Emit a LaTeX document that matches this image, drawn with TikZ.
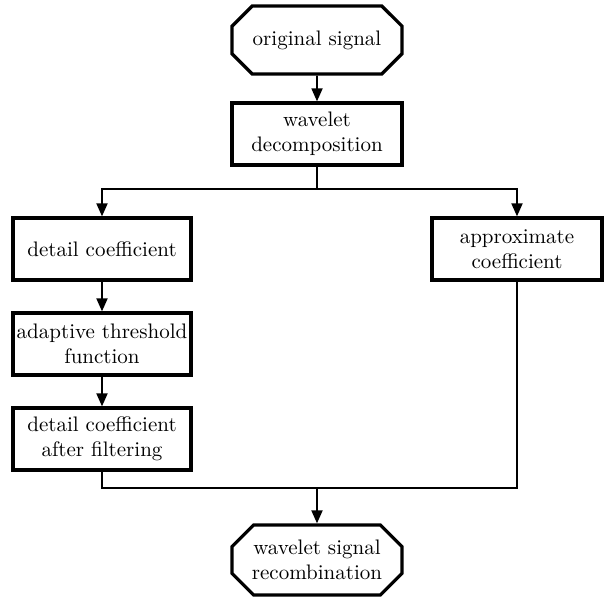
\documentclass[tikz,border=0pt]{standalone}
\usetikzlibrary{shapes.misc,arrows.meta}
\tikzset{
  flownode/.style = {align=center, inner sep=0pt, text centered, font=\fontsize{10.5}{12.6}\selectfont},
  stepbox/.style = {flownode, rectangle, draw=black, line width=1.6pt, minimum width=85pt, minimum height=31pt},
  termbox/.style = {flownode, chamfered rectangle, chamfered rectangle xsep=5.4pt, chamfered rectangle ysep=5.4pt, draw=black, line width=1.6pt, minimum width=85pt, minimum height=34pt},
  link/.style = {line width=0.9pt},
  arr/.style = {link, -{Triangle[length=6.5pt,width=5.5pt]}}
}
\begin{document}
\begin{tikzpicture}[x=0.5pt,y=-0.5pt]
	\useasboundingbox (0,0) rectangle (611,597);
	% nodes
	\node [termbox] (orig) at (317,40) {original signal};
	\node [stepbox] (decomp) at (317,134) {wavelet\\decomposition};
	\node [stepbox, minimum width=89pt] (detail) at (102,249) {detail coefficient};
	\node [stepbox, minimum width=89pt] (adapt) at (102,344) {adaptive threshold\\function};
	\node [stepbox, minimum width=89pt] (filtered) at (102,439) {detail coefficient\\after filtering};
	\node [stepbox] (approx) at (517,249) {approximate\\coefficient};
	\node [termbox, minimum height=35pt] (recomb) at (317,560) {wavelet signal\\recombination};
	\coordinate (split) at (317,189);
	\coordinate (join) at (317,488);
	% connectors
	\draw [arr] (orig) -- (decomp);
	\draw [link] (decomp) -- (split);
	\draw [arr] (split) -| (detail);
	\draw [arr] (split) -| (approx);
	\draw [arr] (detail) -- (adapt);
	\draw [arr] (adapt) -- (filtered);
	\draw [link] (filtered) |- (join);
	\draw [link] (approx) |- (join);
	\draw [arr] (join) -- (recomb);
\end{tikzpicture}
\end{document}
